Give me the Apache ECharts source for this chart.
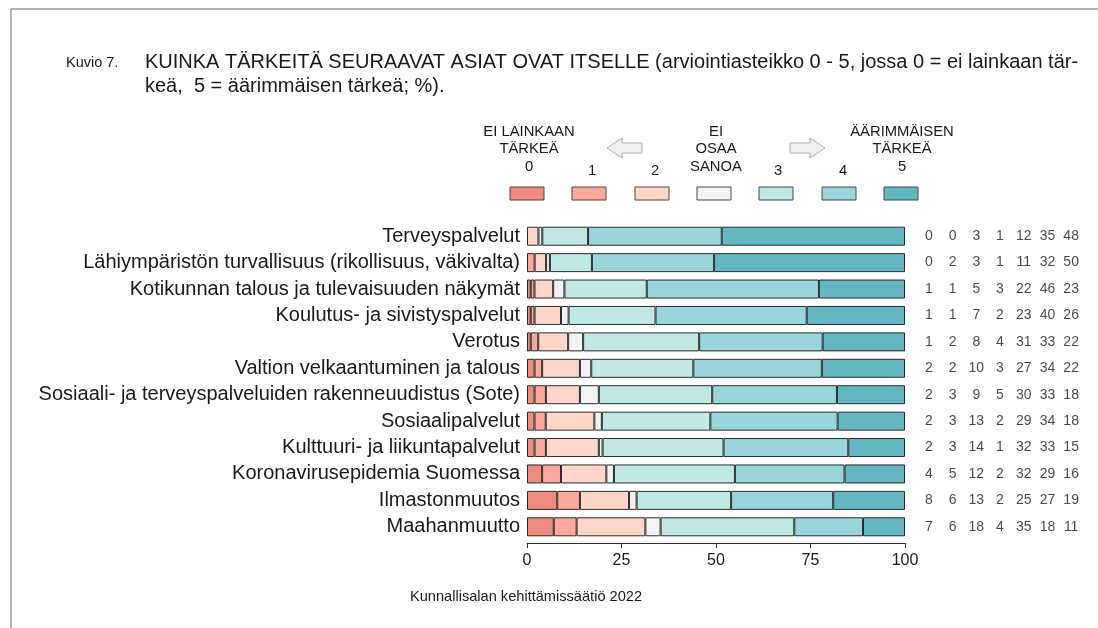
<!DOCTYPE html>
<html>
<head>
<meta charset="utf-8">
<script src="https://cdn.jsdelivr.net/npm/echarts@6/dist/echarts.min.js"></script>
<style>
html,body{margin:0;padding:0;background:#fff;}
#chart{width:1098px;height:628px;}
</style>
</head>
<body>
<div id="chart"></div>
<script>
const categories = [
  'Terveyspalvelut',
  'Lähiympäristön turvallisuus (rikollisuus, väkivalta)',
  'Kotikunnan talous ja tulevaisuuden näkymät',
  'Koulutus- ja sivistyspalvelut',
  'Verotus',
  'Valtion velkaantuminen ja talous',
  'Sosiaali- ja terveyspalveluiden rakenneuudistus (Sote)',
  'Sosiaalipalvelut',
  'Kulttuuri- ja liikuntapalvelut',
  'Koronavirusepidemia Suomessa',
  'Ilmastonmuutos',
  'Maahanmuutto'
];
const scaleNames = ['0', '1', '2', 'Ei osaa sanoa', '3', '4', '5'];
const v0   = [0, 0, 1, 1, 1, 2, 2, 2, 2, 4, 8, 7];
const v1   = [0, 2, 1, 1, 2, 2, 3, 3, 3, 5, 6, 6];
const v2   = [3, 3, 5, 7, 8, 10, 9, 13, 14, 12, 13, 18];
const vEOS = [1, 1, 3, 2, 4, 3, 5, 2, 1, 2, 2, 4];
const v3   = [12, 11, 22, 23, 31, 27, 30, 29, 32, 32, 25, 35];
const v4   = [35, 32, 46, 40, 33, 34, 33, 34, 33, 29, 27, 18];
const v5   = [48, 50, 23, 26, 22, 22, 18, 18, 15, 16, 19, 11];
const xTicks = [0, 25, 50, 75, 100];

const columns = [v0, v1, v2, vEOS, v3, v4, v5];
const colors = ['#EE8A7E', '#FCA99C', '#FED5C9', '#F3F3F3', '#C0E8E4', '#9AD5DC', '#64B7C2'];
const FONT = '"Liberation Sans", Arial, sans-serif';

const totals = categories.map((_, r) => columns.reduce((s, col) => s + col[r], 0));

const barSeries = columns.map((col, c) => ({
  name: scaleNames[c],
  type: 'bar',
  stack: 'total',
  xAxisIndex: 0,
  yAxisIndex: 0,
  barWidth: 19,
  silent: true,
  itemStyle: { color: colors[c], borderColor: '#2b2b2b', borderWidth: 1 },
  data: col.map((v, r) => v === 0 ? '-' : v / totals[r] * 100)
}));

const numberSeries = columns.map((col, c) => ({
  name: 'n' + c,
  type: 'scatter',
  xAxisIndex: 1,
  yAxisIndex: 1,
  symbolSize: 2,
  silent: true,
  itemStyle: { color: 'rgba(0,0,0,0)' },
  label: {
    show: true,
    position: 'inside',
    formatter: p => String(p.value[2]),
    fontSize: 14,
    fontFamily: FONT,
    color: '#1a1a1a'
  },
  data: col.map((v, r) => [c, r, v])
}));

function txt(text, x, y, size, align, extra) {
  return {
    type: 'text',
    silent: true,
    style: Object.assign({
      text: text, x: x, y: y,
      font: size + 'px ' + FONT,
      fill: '#1a1a1a',
      textAlign: align || 'left',
      textVerticalAlign: 'middle'
    }, extra || {})
  };
}

const legendBoxX = [510, 572, 635, 697, 759, 822, 884];
const graphics = [
  { type: 'line', silent: true, shape: { x1: 11, y1: 9, x2: 1098, y2: 9 }, style: { stroke: '#9a9a9a', lineWidth: 1.5 } },
  { type: 'line', silent: true, shape: { x1: 11, y1: 9, x2: 11, y2: 628 }, style: { stroke: '#9a9a9a', lineWidth: 1.5 } },
  txt('Kuvio 7.', 66, 63, 14.5),
  txt('KUINKA TÄRKEITÄ SEURAAVAT ASIAT OVAT ITSELLE (arviointiasteikko 0 - 5, jossa 0 = ei lainkaan tär-', 145, 62, 20),
  txt('keä,  5 = äärimmäisen tärkeä; %).', 145, 86, 20),
  txt('EI LAINKAAN', 529, 132, 14.8, 'center'),
  txt('TÄRKEÄ', 529, 149, 14.8, 'center'),
  txt('0', 529, 167, 14.8, 'center'),
  txt('1', 592, 171, 14.8, 'center'),
  txt('2', 655, 171, 14.8, 'center'),
  txt('EI', 716, 132, 14.8, 'center'),
  txt('OSAA', 716, 149, 14.8, 'center'),
  txt('SANOA', 716, 167, 14.8, 'center'),
  txt('3', 778, 171, 14.8, 'center'),
  txt('4', 843, 171, 14.8, 'center'),
  txt('ÄÄRIMMÄISEN', 902, 132, 14.8, 'center'),
  txt('TÄRKEÄ', 902, 149, 14.8, 'center'),
  txt('5', 902, 167, 14.8, 'center'),
  { type: 'polygon', silent: true,
    shape: { points: [[607, 148], [622, 138], [622, 143], [642, 143], [642, 153], [622, 153], [622, 158]] },
    style: { fill: '#efefef', stroke: '#b0b0b0', lineWidth: 1 } },
  { type: 'polygon', silent: true,
    shape: { points: [[825, 148], [810, 138], [810, 143], [790, 143], [790, 153], [810, 153], [810, 158]] },
    style: { fill: '#efefef', stroke: '#b0b0b0', lineWidth: 1 } },
  txt('Kunnallisalan kehittämissäätiö 2022', 410, 597, 14.6)
];
legendBoxX.forEach((x, i) => {
  graphics.push({ type: 'rect', silent: true, shape: { x: x, y: 187, width: 34, height: 13 },
    style: { fill: colors[i], stroke: '#4a4a4a', lineWidth: 1 } });
});

const chart = echarts.init(document.getElementById('chart'), null, { renderer: 'canvas' });
chart.setOption({
  animation: false,
  backgroundColor: '#ffffff',
  grid: [
    { left: 527, right: 193, top: 223, bottom: 88, containLabel: false },
    { left: 917, width: 166, top: 223, bottom: 88, containLabel: false }
  ],
  xAxis: [
    {
      type: 'value', gridIndex: 0, min: 0, max: 100, interval: 25, offset: 3,
      axisLine: { show: true, lineStyle: { color: '#333', width: 1 } },
      axisTick: { show: true, length: 5, lineStyle: { color: '#333' } },
      splitLine: { show: false },
      axisLabel: { fontSize: 16, fontFamily: FONT, color: '#1a1a1a', margin: 10,
        formatter: v => xTicks.includes(v) ? String(v) : '' }
    },
    {
      type: 'category', gridIndex: 1, data: scaleNames, show: false
    }
  ],
  yAxis: [
    {
      type: 'category', gridIndex: 0, data: categories, inverse: true,
      axisLine: { show: false }, axisTick: { show: false },
      axisLabel: { fontSize: 20, fontFamily: FONT, color: '#1a1a1a', margin: 7 }
    },
    {
      type: 'category', gridIndex: 1, data: categories, inverse: true, show: false
    }
  ],
  series: barSeries.concat(numberSeries),
  graphic: graphics
});
</script>
</body>
</html>
